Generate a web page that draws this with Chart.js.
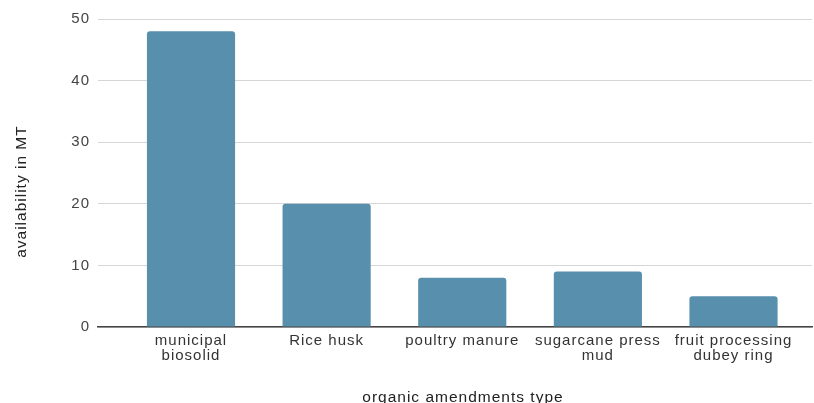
<!DOCTYPE html>
<html>
<head>
<meta charset="utf-8">
<script src="https://cdn.jsdelivr.net/npm/chart.js@4/dist/chart.umd.min.js"></script>
<style>
  html, body { margin: 0; padding: 0; background: #fff; overflow: hidden; }
  #wrap { width: 814px; height: 403px; overflow: hidden; }
  canvas { display: block; }
</style>
</head>
<body>
<div id="wrap"><canvas id="c" width="814" height="417"></canvas></div>
<script>
// Availability of organic amendments (MT)
const categories = [
  ["municipal", "biosolid"],
  ["Rice husk"],
  ["poultry manure"],
  ["sugarcane press", "mud"],
  ["fruit processing", "dubey ring"]
];
const availability = [48, 20, 8, 9, 5];
const yTicks = [0, 10, 20, 30, 40, 50];

const FONT = "'Liberation Sans', Arial, sans-serif";

// slightly tracked text, applied before layout and drawing
const tracking = {
  id: 'tracking',
  beforeLayout(chart) { chart.ctx.letterSpacing = '1px'; },
  beforeDraw(chart) { chart.ctx.letterSpacing = '1px'; }
};

new Chart(document.getElementById('c'), {
  type: 'bar',
  data: {
    datasets: [{
      data: categories.map((c, i) => ({ x: i, y: availability[i] })),
      backgroundColor: '#588fad',
      borderWidth: 0,
      borderRadius: { topLeft: 3, topRight: 3 },
      borderSkipped: 'bottom',
      barPercentage: 0.65,
      categoryPercentage: 1.0
    }]
  },
  options: {
    responsive: false,
    animation: false,
    layout: { padding: { top: 19, right: 2, left: 0, bottom: 0 } },
    plugins: { legend: { display: false }, tooltip: { enabled: false } },
    scales: {
      x: {
        type: 'linear',
        offset: false,
        min: -0.6857,
        max: 4.5788,
        afterBuildTicks: s => { s.ticks = categories.map((_, i) => ({ value: i })); },
        afterFit: s => { s.height = 90; },
        grid: { display: false, drawTicks: false },
        border: { display: true, color: '#444', width: 1.5 },
        ticks: {
          autoSkip: false,
          maxRotation: 0,
          padding: 6,
          color: '#333',
          font: { family: FONT, size: 15, lineHeight: 1.0 },
          callback: v => categories[v]
        },
        title: {
          display: true,
          text: '   organic amendments type',
          color: '#222',
          font: { family: FONT, size: 15.5, lineHeight: 1.2 },
          padding: { top: 0, bottom: 10 }
        }
      },
      y: {
        min: 0,
        max: 50,
        afterBuildTicks: s => { s.ticks = yTicks.map(v => ({ value: v })); },
        afterFit: s => { s.width = 98; },
        grid: { color: '#d6d6d6', lineWidth: 1, drawTicks: false },
        border: { display: false },
        ticks: {
          padding: 8,
          color: '#444',
          font: { family: FONT, size: 15 }
        },
        title: {
          display: true,
          text: 'availability in MT       ',
          color: '#222',
          font: { family: FONT, size: 15.5, lineHeight: 1.2 },
          padding: { top: 12, bottom: 0 }
        }
      }
    }
  },
  plugins: [tracking]
});
</script>
</body>
</html>
